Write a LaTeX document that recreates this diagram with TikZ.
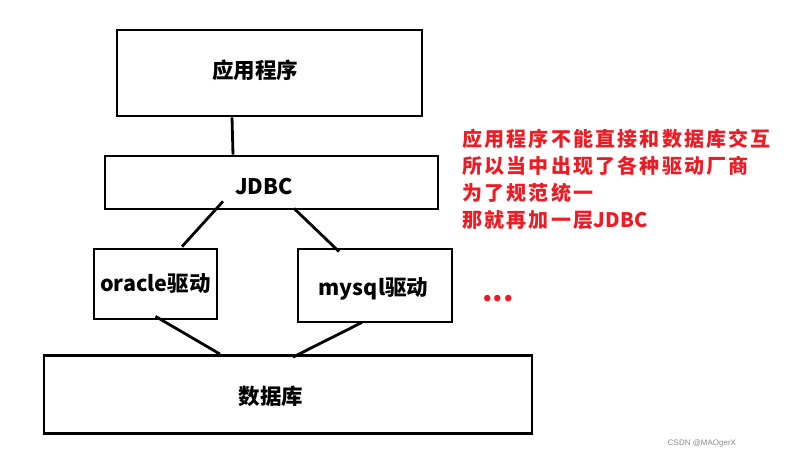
\documentclass[tikz,border=0pt]{standalone}
\usepackage{fontspec}
\setmainfont{Noto Sans CJK SC}
\newfontfamily\markfont{Liberation Sans}
\usepackage{tikz}
\definecolor{notered}{HTML}{ED1C24}
\definecolor{markgray}{HTML}{8C8C8C}

\begin{document}
\begin{tikzpicture}[x=1pt,y=-1pt,
  box/.style={draw, line width=2.8pt, inner sep=0pt},
  lbl/.style={font=\fontsize{21.5}{25}\selectfont\bfseries, inner sep=0pt},
  wire/.style={line width=2.8pt},
  note/.style={text=notered, inner sep=0pt, font=\fontsize{20}{27}\selectfont\bfseries\addfontfeature{LetterSpace=11}}]
\useasboundingbox[fill=white] (0,0) rectangle (792,460);
\node[box, minimum width=305pt, minimum height=86pt, label={[lbl, xshift=-14.5pt, yshift=2.5pt]center:应用程序}] (app) at (269.5,73) {};
\node[box, minimum width=333pt, minimum height=53pt, label={[lbl, xshift=-7.5pt, yshift=-3.5pt]center:JDBC}] (jdbc) at (271.5,182.5) {};
\node[box, minimum width=123pt, minimum height=70pt, label={[lbl]center:oracle驱动}] (oracle) at (155.5,284) {};
\node[box, minimum width=154pt, minimum height=73pt, label={[lbl, xshift=-1.5pt, yshift=-3.5pt]center:mysql驱动}] (mysql) at (375,285.5) {};
\node[box, minimum width=488pt, minimum height=78pt, label={[lbl, xshift=-17pt, yshift=-1.5pt]center:数据库}] (db) at (288,394.5) {};
\draw[wire] ([xshift=-37.5pt]app.south) -- ([xshift=-38.5pt]jdbc.north);
\draw[wire] ([xshift=-48.5pt,yshift=9pt]jdbc.south) -- ([xshift=26.5pt,yshift=1pt]oracle.north);
\draw[wire] ([xshift=22.5pt,yshift=2pt]jdbc.south) -- ([xshift=-36pt,yshift=-4pt]mysql.north);
\draw[wire] ([yshift=4pt]oracle.south) -- ([xshift=-68pt]db.north);
\draw[wire] ([xshift=-13pt,yshift=1pt]mysql.south) -- ([xshift=5pt,yshift=-3pt]db.north);
\node[note, anchor=north west, align=left] (why) at (462,129) {应用程序不能直接和数据库交互\\所以当中出现了各种驱动厂商\\为了规范统一\\那就再加一层{\addfontfeature{LetterSpace=2}JDBC}};
\node[text=notered, inner sep=0pt, anchor=base, font=\fontsize{30}{30}\selectfont\bfseries] (more) at (498,301) {...};
\node[text=markgray, inner sep=0pt, font=\markfont\fontsize{8}{8}\selectfont] (mark) at (702,443) {CSDN @MAOgerX};
\end{tikzpicture}
\end{document}
